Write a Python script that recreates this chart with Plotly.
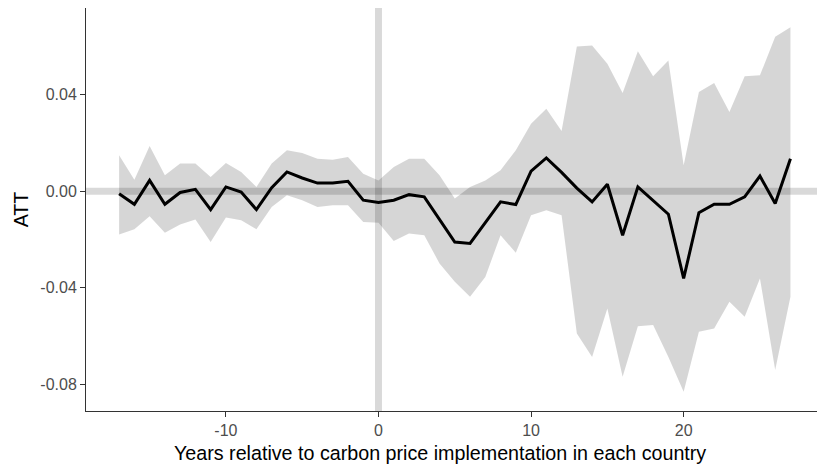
import plotly.graph_objects as go

# Event-study estimates: average treatment effect by year relative to carbon pricing
years = list(range(-17, 28))
att = [-0.0010, -0.0054, 0.0045, -0.0054, -0.0005, 0.0008, -0.0076, 0.0018, -0.0003,
       -0.0076, 0.0015, 0.0080, 0.0055, 0.0034, 0.0034, 0.0041, -0.0037, -0.0046,
       -0.0037, -0.0014, -0.0023, -0.0117, -0.0210, -0.0216, -0.0128, -0.0044,
       -0.0055, 0.0083, 0.0138, 0.0078, 0.0013, -0.0044, 0.0029, -0.0182, 0.0018,
       -0.0037, -0.0095, -0.0361, -0.0089, -0.0054, -0.0054, -0.0023, 0.0063,
       -0.0051, 0.0135]
ci_upper = [0.0149, 0.0048, 0.0187, 0.0066, 0.0115, 0.0115, 0.0059, 0.0117, 0.0080,
            0.0018, 0.0115, 0.0170, 0.0159, 0.0135, 0.0131, 0.0142, 0.0073, 0.0045,
            0.0101, 0.0135, 0.0135, 0.0066, -0.0030, 0.0018, 0.0045, 0.0087, 0.0170,
            0.0280, 0.0342, 0.0250, 0.0600, 0.0604, 0.0528, 0.0407, 0.0580, 0.0476,
            0.0542, 0.0108, 0.0411, 0.0448, 0.0328, 0.0476, 0.0480, 0.0640, 0.0679]
ci_lower = [-0.0179, -0.0157, -0.0103, -0.0172, -0.0138, -0.0117, -0.0210, -0.0109,
            -0.0120, -0.0157, -0.0065, -0.0017, -0.0037, -0.0065, -0.0058, -0.0058,
            -0.0127, -0.0130, -0.0206, -0.0175, -0.0182, -0.0299, -0.0375, -0.0437,
            -0.0355, -0.0182, -0.0255, -0.0099, -0.0079, -0.0099, -0.0589, -0.0686,
            -0.0485, -0.0768, -0.0559, -0.0554, -0.0686, -0.0830, -0.0582, -0.0568,
            -0.0458, -0.0520, -0.0361, -0.0740, -0.0437]

y_ticks = [0.04, 0.00, -0.04, -0.08]
y_tick_labels = ["0.04", "0.00", "-0.04", "-0.08"]
x_ticks = [-10, 0, 10, 20]
x_tick_labels = ["-10", "0", "10", "20"]

FONT = "Liberation Sans, Arial, sans-serif"

fig = go.Figure()

# Confidence band
fig.add_trace(go.Scatter(x=years, y=ci_upper, mode="lines", line=dict(width=0),
                         hoverinfo="skip", showlegend=False))
fig.add_trace(go.Scatter(x=years, y=ci_lower, mode="lines", line=dict(width=0),
                         fill="tonexty", fillcolor="rgba(0,0,0,0.16)",
                         hoverinfo="skip", showlegend=False))

# Point estimates
fig.add_trace(go.Scatter(x=years, y=att, mode="lines",
                         line=dict(color="black", width=3), showlegend=False))

# Reference lines at zero
fig.add_hline(y=0, line=dict(color="rgba(0,0,0,0.15)", width=7), layer="below")
fig.add_vline(x=0, line=dict(color="rgba(0,0,0,0.15)", width=7), layer="below")

axis_common = dict(showgrid=False, zeroline=False, showline=True, linecolor="#333333",
                   linewidth=1, ticks="outside", ticklen=5, tickcolor="#333333",
                   tickfont=dict(family=FONT, size=16, color="#4D4D4D"))

fig.update_xaxes(range=[-19.17, 28.74], tickvals=x_ticks, ticktext=x_tick_labels,
                 **axis_common)
fig.update_yaxes(range=[-0.0910, 0.0759], tickvals=y_ticks, ticktext=y_tick_labels,
                 title=dict(text="ATT", font=dict(family=FONT, size=19.7, color="black"),
                            standoff=6),
                 **axis_common)

# x-axis title
fig.add_annotation(text="Years relative to carbon price implementation in each country",
                   xref="paper", yref="paper", x=0.484, y=0, yshift=-42,
                   xanchor="center", yanchor="middle", showarrow=False,
                   font=dict(family=FONT, size=19.7, color="black"))

fig.update_layout(width=817, height=468, margin=dict(l=86, r=0, t=8, b=57),
                  plot_bgcolor="white", paper_bgcolor="white")

fig.write_html("out.html")
